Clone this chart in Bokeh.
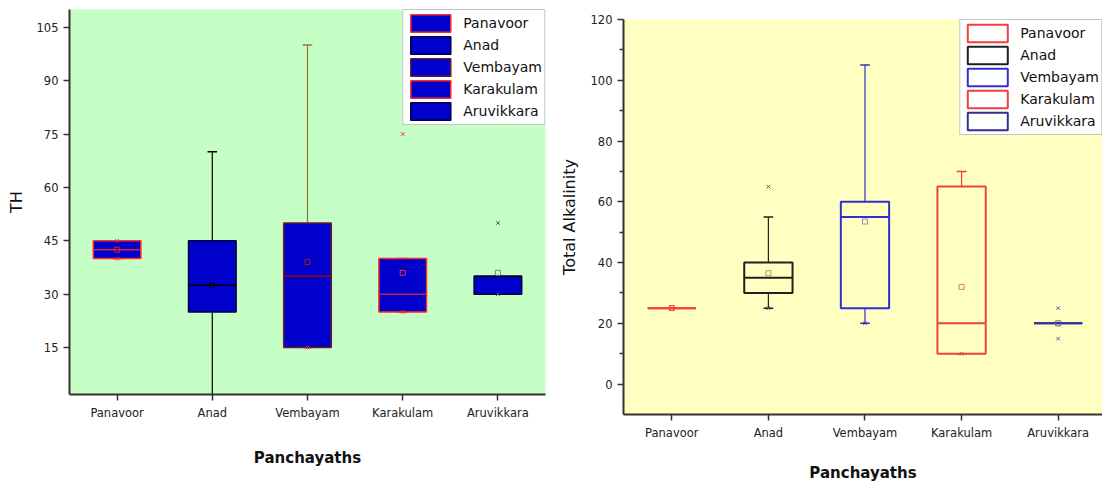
import numpy as np
from bokeh.plotting import figure
from bokeh.models import ColumnDataSource, FixedTicker, Legend, LegendItem, Range1d
from bokeh.layouts import row
from bokeh.embed import file_html
from bokeh.resources import INLINE

categories = ["Panavoor", "Anad", "Vembayam", "Karakulam", "Aruvikkara"]

# ---- TH (left chart) ----
th_q1 = [40, 25, 15, 25, 30]
th_median = [42.5, 32.5, 35, 30, 35]
th_q3 = [45, 45, 50, 40, 35]
th_low = [40, 0, 15, 25, 30]
th_high = [45, 70, 100, 40, 35]
th_mean = [42.5, 32.5, 39, 36, 36]
th_mark_cat = ["Panavoor", "Panavoor", "Vembayam", "Karakulam", "Karakulam", "Aruvikkara", "Aruvikkara"]
th_mark_val = [45, 40, 15, 75, 25, 50, 30]

# ---- Total Alkalinity (right chart) ----
ta_q1 = [25, 30, 25, 10, 20]
ta_median = [25, 35, 55, 20, 20]
ta_q3 = [25, 40, 60, 65, 20]
ta_low = [25, 25, 20, 10, 20]
ta_high = [25, 55, 105, 70, 20]
ta_mean = [25, 36.5, 53.5, 32, 20]
ta_mark_cat = ["Panavoor", "Anad", "Anad", "Vembayam", "Karakulam", "Aruvikkara", "Aruvikkara"]
ta_mark_val = [25, 65, 25, 20, 10, 25, 15]

# ---- styles ----
TH_FILL = "#0000CC"
th_line = ["#FF2A2A", "#000040", "#6B1A2A", "#FF2A2A", "#000040"]
th_med = ["#E0203A", "#000000", "#A00000", "#C02050", "#000000"]
th_whisk = ["#FF2A2A", "#000000", "#A0703A", "#FF2A2A", "#000000"]
th_meanc = ["#E02020", "#000000", "#A02020", "#FF3030", "#808080"]
th_markc = {"Panavoor": "#E03030", "Anad": "#000000", "Vembayam": "#C04040",
            "Karakulam": "#FF3030", "Aruvikkara": "#505050"}

ta_line = ["#F04040", "#202020", "#3030D0", "#F04040", "#303090"]
ta_meanc = ["#F04040", "#A0A040", "#9090C0", "#E08040", "#6060A0"]
ta_markc = {"Panavoor": "#F04040", "Anad": "#505050", "Vembayam": "#3030D0",
            "Karakulam": "#F04040", "Aruvikkara": "#606090"}

FONT = "DejaVu Sans"
xs = np.arange(1, len(categories) + 1)
BOX_HALF = 0.25
CAP_HALF = 0.05


def style_axes(p, ylabel, yticks, minor=None, xlab_standoff=26, ylab_standoff=8):
    p.xaxis.ticker = FixedTicker(ticks=list(xs))
    p.xaxis.major_label_overrides = {int(x): c for x, c in zip(xs, categories)}
    p.yaxis.ticker = FixedTicker(ticks=yticks, minor_ticks=minor or [])
    for ax in (p.xaxis, p.yaxis):
        ax.axis_line_width = 2
        ax.axis_line_color = "#333333"
        ax.major_tick_line_color = "#333333"
        ax.major_tick_line_width = 1.5
        ax.major_tick_out = 6
        ax.major_tick_in = 0
        ax.minor_tick_line_color = "#333333" if minor else None
        ax.minor_tick_line_width = 1.5
        ax.minor_tick_out = 4
        ax.minor_tick_in = 0
        ax.major_label_text_font = FONT
        ax.major_label_text_font_size = "11.5px"
        ax.major_label_text_color = "#222222"
        ax.axis_label_text_font = FONT
        ax.axis_label_text_color = "#111111"
    p.xaxis.major_label_standoff = 5
    p.yaxis.major_label_standoff = 5
    p.xaxis.axis_label = "Panchayaths"
    p.xaxis.axis_label_text_font_style = "bold"
    p.xaxis.axis_label_text_font_size = "15px"
    p.xaxis.axis_label_standoff = xlab_standoff
    p.yaxis.axis_label = ylabel
    p.yaxis.axis_label_text_font_style = "normal"
    p.yaxis.axis_label_text_font_size = "16px"
    p.yaxis.axis_label_standoff = ylab_standoff
    p.xgrid.grid_line_color = None
    p.ygrid.grid_line_color = None
    p.outline_line_color = None


def draw_boxes(p, q1, med, q3, low, high, mean, mcat, mval,
               line, medc, whisk, meanc, markc, fill, fill_alpha, lw):
    src = ColumnDataSource(dict(
        x=xs, left=xs - BOX_HALF, right=xs + BOX_HALF,
        q1=q1, q3=q3, med=med, low=low, high=high, mean=mean,
        line=line, medc=medc, whisk=whisk, meanc=meanc,
        c0=xs - CAP_HALF, c1=xs + CAP_HALF,
    ))
    p.segment(x0="x", x1="x", y0="q3", y1="high", line_color="whisk", line_width=1.2, source=src)
    p.segment(x0="x", x1="x", y0="low", y1="q1", line_color="whisk", line_width=1.2, source=src)
    p.segment(x0="c0", x1="c1", y0="high", y1="high", line_color="whisk", line_width=1.5, source=src)
    p.segment(x0="c0", x1="c1", y0="low", y1="low", line_color="whisk", line_width=1.5, source=src)
    box = p.quad(left="left", right="right", bottom="q1", top="q3", fill_color=fill,
                 fill_alpha=fill_alpha, line_color="line", line_width=lw, source=src)
    p.segment(x0="left", x1="right", y0="med", y1="med", line_color="medc", line_width=lw, source=src)
    p.scatter(x="x", y="mean", marker="square", size=5, fill_color=None,
              line_color="meanc", line_width=1, source=src)
    mx = [categories.index(c) + 1 for c in mcat]
    msrc = ColumnDataSource(dict(x=mx, y=mval, c=[markc[c] for c in mcat]))
    p.scatter(x="x", y="y", marker="x", size=5, line_color="c", line_width=1, source=msrc)
    return box


def add_legend(p, box, size):
    legend = Legend(items=[LegendItem(label=c, renderers=[box], index=i)
                           for i, c in enumerate(categories)])
    legend.location = "top_right"
    legend.margin = 0
    legend.padding = 2
    legend.spacing = 0
    legend.glyph_width = 50
    legend.glyph_height = 22
    legend.label_height = 22
    legend.label_standoff = 8
    legend.label_text_font = FONT
    legend.label_text_font_size = size
    legend.label_text_color = "#111111"
    legend.border_line_color = "#888888"
    legend.border_line_width = 1
    legend.background_fill_color = "white"
    legend.background_fill_alpha = 1
    p.add_layout(legend)


H = 484

# ---- left figure ----
left = figure(width=556, height=H, x_range=Range1d(0.5, 5.5), y_range=Range1d(1.8, 110),
              output_backend="svg", toolbar_location=None, frame_align=False,
              min_border_left=69, min_border_right=11, min_border_top=9, min_border_bottom=H - 394,
              background_fill_color="#C6FFC6", border_fill_color="white")
style_axes(left, "TH", [15, 30, 45, 60, 75, 90, 105], xlab_standoff=26, ylab_standoff=8)
b1 = draw_boxes(left, th_q1, th_median, th_q3, th_low, th_high, th_mean, th_mark_cat, th_mark_val,
                th_line, th_med, th_whisk, th_meanc, th_markc, TH_FILL, 1.0, 1.5)
add_legend(left, b1, "14px")

# ---- right figure ----
right = figure(width=546, height=H, x_range=Range1d(0.5, 5.459), y_range=Range1d(-10, 120),
               output_backend="svg", toolbar_location=None, frame_align=False,
               min_border_left=65, min_border_right=0, min_border_top=19, min_border_bottom=H - 417,
               background_fill_color="#FFFFC2", border_fill_color="white")
style_axes(right, "Total Alkalinity", [0, 20, 40, 60, 80, 100, 120],
           minor=[10, 30, 50, 70, 90, 110], xlab_standoff=21, ylab_standoff=9)
b2 = draw_boxes(right, ta_q1, ta_median, ta_q3, ta_low, ta_high, ta_mean, ta_mark_cat, ta_mark_val,
                ta_line, ta_line, ta_line, ta_meanc, ta_markc, "white", 0.0, 2)
add_legend(right, b2, "14px")

layout = row(left, right)
open("out.html", "w").write(file_html(layout, INLINE))
